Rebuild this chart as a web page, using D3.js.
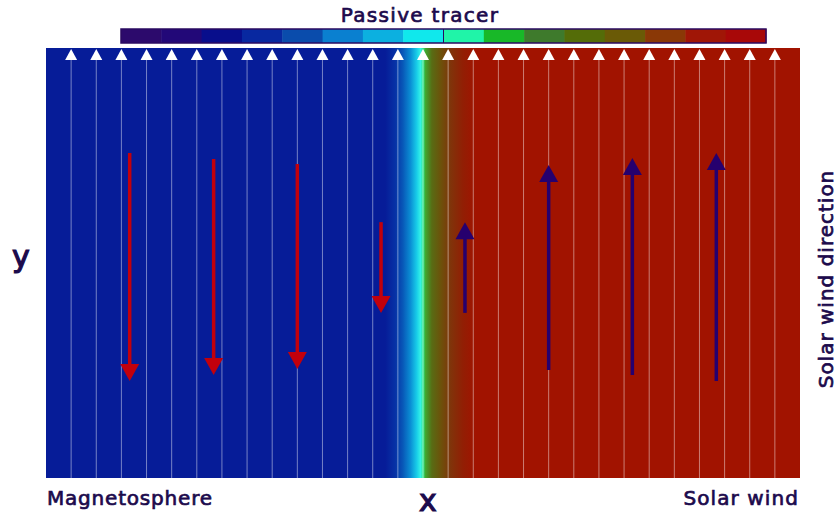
<!DOCTYPE html>
<html>
<head>
<meta charset="utf-8">
<script src="https://cdn.jsdelivr.net/npm/d3@7"></script>
<style>
  body { margin: 0; background: #fff; }
  text { font-family: "DejaVu Sans", sans-serif; fill: #1c0a4c; stroke: #1c0a4c; stroke-width: 0.7px; }
</style>
</head>
<body>
<div id="chart"></div>
<script>
// colour table of the passive tracer bar
const barColors = ['#2c0a6c', '#220878', '#080e8c', '#0828a0', '#0a4cac', '#0a80d0', '#0cb0e0', '#10e8ec',
                   '#20f4a8', '#18b828', '#3e7a2c', '#546c08', '#6a5a06', '#8a3806', '#a01606', '#a80808'];

// tracer field across x (cell units 0..30)
const fieldX = [0, 13.5, 13.9, 14.2, 14.5, 14.75, 14.9, 15.0, 15.1, 15.35, 15.7, 16.1, 16.6, 17.1, 30];
const fieldColor = ['#061c98', '#061c98', '#0632a6', '#0858b8', '#0a8ed4', '#18cce8', '#34f2e6', '#30e890',
                    '#40a830', '#586c14', '#6c520a', '#80340a', '#921e04', '#a11300', '#a11300'];

// field lines (cell positions)
const gridLines = d3.range(1, 30);

// velocity arrows: x in cells, tail and tip in y units (0 bottom .. 1 top)
const arrowX    = [3.33, 6.67, 10.0, 13.33, 16.67, 20.0, 23.33, 26.67];
const arrowTail = [0.756, 0.742, 0.730, 0.595, 0.384, 0.251, 0.2395, 0.2256];
const arrowTip  = [0.2256, 0.2395, 0.2535, 0.384, 0.595, 0.728, 0.744, 0.756];

const width = 839, height = 519;
const pLeft = 46, pRight = 800, pTop = 48, pBottom = 478;

const svg = d3.select('#chart').append('svg')
    .attr('width', width)
    .attr('height', height);

const x = d3.scaleLinear().domain([0, 30]).range([pLeft, pRight]);
const y = d3.scaleLinear().domain([0, 1]).range([pBottom, pTop]);

// field gradient
const grad = svg.append('defs').append('linearGradient')
    .attr('id', 'field')
    .attr('gradientUnits', 'userSpaceOnUse')
    .attr('x1', pLeft).attr('x2', pRight)
    .attr('y1', 0).attr('y2', 0);

grad.selectAll('stop')
    .data(fieldX)
    .join('stop')
    .attr('offset', d => (x(d) - pLeft) / (pRight - pLeft))
    .attr('stop-color', (d, i) => fieldColor[i]);

svg.append('rect')
    .attr('x', pLeft).attr('y', pTop)
    .attr('width', pRight - pLeft).attr('height', pBottom - pTop)
    .attr('fill', 'url(#field)');

// field lines with arrowheads at the top
svg.append('g')
    .selectAll('line')
    .data(gridLines)
    .join('line')
    .attr('x1', d => x(d)).attr('x2', d => x(d))
    .attr('y1', pTop + 11).attr('y2', pBottom)
    .attr('stroke', '#fff')
    .attr('stroke-opacity', 0.45)
    .attr('stroke-width', 1);

svg.append('g')
    .selectAll('path')
    .data(gridLines)
    .join('path')
    .attr('d', d => `M${x(d)},${pTop + 1}L${x(d) + 6},${pTop + 12}L${x(d) - 6},${pTop + 12}Z`)
    .attr('fill', '#fff');

// velocity arrows
const headLen = 17, headHalf = 9.5;
const isDown = i => arrowTip[i] < arrowTail[i];
const arrows = svg.append('g')
    .selectAll('g')
    .data(arrowX)
    .join('g');

arrows.append('line')
    .attr('x1', d => x(d)).attr('x2', d => x(d))
    .attr('y1', (d, i) => y(arrowTail[i]))
    .attr('y2', (d, i) => y(arrowTip[i]) + (isDown(i) ? -headLen + 1 : headLen - 1))
    .attr('stroke', (d, i) => isDown(i) ? '#c2000c' : '#26006e')
    .attr('stroke-width', 3.5);

arrows.append('path')
    .attr('d', (d, i) => {
        const t = y(arrowTip[i]);
        const b = t + (isDown(i) ? -headLen : headLen);
        return `M${x(d)},${t}L${x(d) + headHalf},${b}L${x(d) - headHalf},${b}Z`;
    })
    .attr('fill', (d, i) => isDown(i) ? '#c2000c' : '#26006e');

// colour bar
const cb = d3.scaleBand().domain(d3.range(barColors.length)).range([121, 766]);
svg.append('g')
    .selectAll('rect')
    .data(barColors)
    .join('rect')
    .attr('x', (d, i) => cb(i))
    .attr('y', 29)
    .attr('width', cb.bandwidth() + 0.5)
    .attr('height', 14)
    .attr('fill', d => d);

svg.append('rect')
    .attr('x', 121).attr('y', 29)
    .attr('width', 645).attr('height', 14)
    .attr('fill', 'none')
    .attr('stroke', '#2a0a60')
    .attr('stroke-width', 1.5);

svg.append('line')
    .attr('x1', cb(8)).attr('x2', cb(8))
    .attr('y1', 29).attr('y2', 43)
    .attr('stroke', '#2a0a60')
    .attr('stroke-width', 1);

// texts
svg.append('text')
    .attr('x', 420).attr('y', 22)
    .attr('text-anchor', 'middle')
    .attr('font-size', 20)
    .attr('letter-spacing', 1.3)
    .text('Passive tracer');

svg.append('text')
    .attr('x', 47).attr('y', 505)
    .attr('font-size', 20)
    .attr('letter-spacing', 0.8)
    .text('Magnetosphere');

svg.append('text')
    .attr('x', 799).attr('y', 505)
    .attr('text-anchor', 'end')
    .attr('font-size', 20)
    .attr('letter-spacing', 1.1)
    .text('Solar wind');

svg.append('text')
    .attr('x', 428).attr('y', 511)
    .attr('text-anchor', 'middle')
    .attr('font-size', 30)
    .style('stroke-width', '1.2px')
    .text('x');

svg.append('text')
    .attr('x', 21).attr('y', 267)
    .attr('text-anchor', 'middle')
    .attr('font-size', 30)
    .style('stroke-width', '1.2px')
    .text('y');

svg.append('text')
    .attr('transform', 'translate(833,279) rotate(-90)')
    .attr('text-anchor', 'middle')
    .attr('font-size', 20)
    .attr('letter-spacing', 1)
    .text('Solar wind direction');
</script>
</body>
</html>
